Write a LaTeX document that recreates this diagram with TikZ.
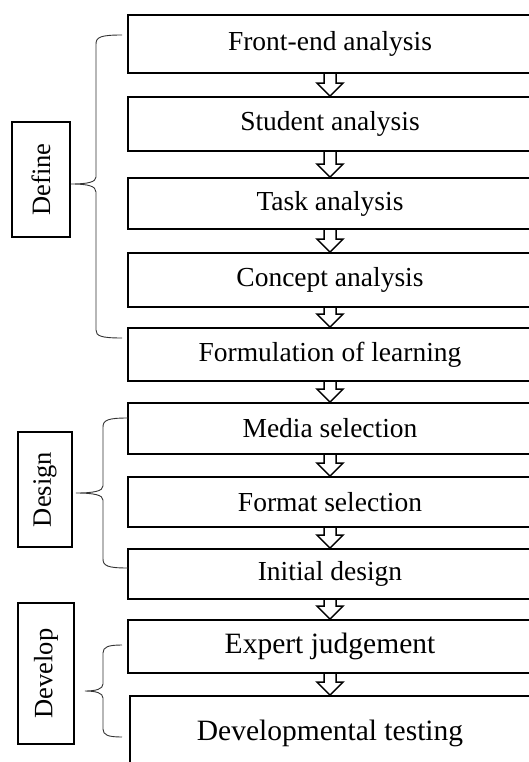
\documentclass[tikz,border=0pt]{standalone}
\usepackage{fontspec}
\setmainfont{Liberation Serif}
\usetikzlibrary{calc}
\tikzset{
  stepbox/.style={draw, line width=1.8pt, fill=white, minimum width=404pt, inner sep=0pt, font=\fontsize{27.5}{30}\selectfont},
  bigbox/.style={stepbox, font=\fontsize{29.5}{32}\selectfont},
  phasebox/.style={draw, line width=1.8pt, inner sep=0pt, font=\fontsize{26.5}{29}\selectfont},
  hollow/.style={draw, line width=1.5pt, line join=miter},
  bracket/.style={draw=black!80, line width=0.9pt}
}
\newcommand{\harrow}[2]{%
  \draw[hollow] let \p1=(#1.south), \p2=(#2.north) in
    (\x1-6pt,\y1) -- (\x1-6pt,\y2+13pt) -- (\x1-13pt,\y2+13pt) -- (\x1,\y2)
    -- (\x1+13pt,\y2+13pt) -- (\x1+6pt,\y2+13pt) -- (\x1+6pt,\y1);}
\begin{document}
\begin{tikzpicture}[x=1pt,y=-1pt]
\useasboundingbox (0,0) rectangle (529,762);
\clip (0,0) rectangle (529,762);
% steps
\node[stepbox, minimum height=58pt] (b1) at (330,44) {Front-end analysis};
\node[stepbox, minimum height=54pt] (b2) at (330,124) {Student analysis};
\node[stepbox, minimum height=51pt] (b3) at (330,203.5) {Task analysis};
\node[stepbox, minimum height=54pt] (b4) at (330,280) {Concept analysis};
\node[stepbox, minimum height=53pt] (b5) at (330,354.5) {Formulation of learning};
\node[stepbox, minimum height=51pt] (b6) at (330,428.5) {Media selection};
\node[stepbox, minimum height=50pt] (b7) at (330,502) {Format selection};
\node[stepbox, minimum height=50pt] (b8) at (330,574) {Initial design};
\node[bigbox, minimum height=53pt] (b9) at (330,646.5) {Expert judgement};
\node[bigbox, minimum height=74pt, minimum width=400pt] (b10) at (330,733) {Developmental testing};
% arrows
\harrow{b1}{b2}
\harrow{b2}{b3}
\harrow{b3}{b4}
\harrow{b4}{b5}
\harrow{b5}{b6}
\harrow{b6}{b7}
\harrow{b7}{b8}
\harrow{b8}{b9}
\harrow{b9}{b10}
% phase labels
\node[phasebox, minimum width=58pt, minimum height=115pt] (def) at (41,179.5) {\rotatebox{90}{Define}};
\node[phasebox, minimum width=54pt, minimum height=115pt] (des) at (45,489.5) {\rotatebox{90}{Design}};
\node[phasebox, minimum width=56pt, minimum height=141pt] (dev) at (46,673.5) {\rotatebox{90}{Develop}};
% braces
\coordinate (t1) at (122,35);
\coordinate (e1) at (122,338);
\coordinate (p1) at (71,184);
\draw[bracket] (t1) .. controls (101,35) and (96,37) .. (96,44) -- (96,177)
  .. controls (96,182) and (88,184) .. (p1)
  .. controls (88,184) and (96,186) .. (96,192) -- (96,330)
  .. controls (96,336) and (101,338) .. (e1);
\coordinate (t2) at (128,418);
\coordinate (e2) at (128,568);
\coordinate (p2) at (76,493);
\draw[bracket] (t2) .. controls (108,418) and (103,420) .. (103,427) -- (103,486)
  .. controls (103,491) and (94,493) .. (p2)
  .. controls (94,493) and (103,495) .. (103,500) -- (103,559)
  .. controls (103,566) and (108,568) .. (e2);
\coordinate (t3) at (122,645);
\coordinate (e3) at (122,737);
\coordinate (p3) at (85,691);
\draw[bracket] (t3) .. controls (108,645) and (103,647) .. (103,653) -- (103,684)
  .. controls (103,689) and (96,691) .. (p3)
  .. controls (96,691) and (103,693) .. (103,698) -- (103,729)
  .. controls (103,735) and (108,737) .. (e3);
\end{tikzpicture}
\end{document}
